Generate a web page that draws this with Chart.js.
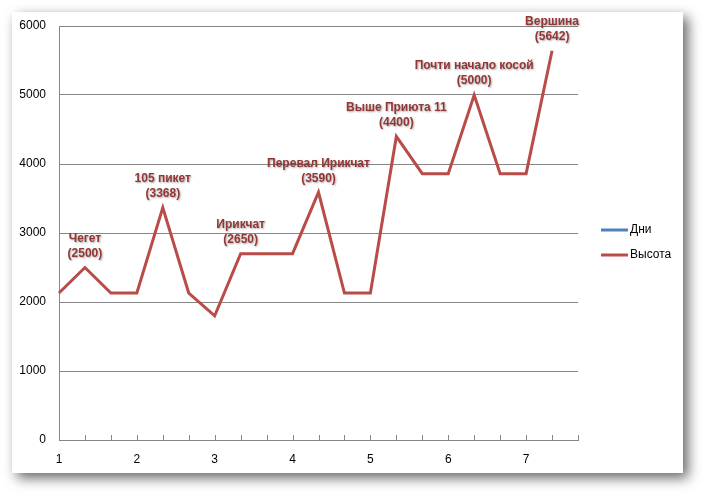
<!DOCTYPE html>
<html><head><meta charset="utf-8">
<script src="https://cdn.jsdelivr.net/npm/chart.js@4/dist/chart.umd.min.js"></script>
<style>html,body{margin:0;padding:0;background:#fff}#wrap{width:703px;height:494px}</style>
</head><body><div id="wrap"><canvas id="c" width="703" height="494"></canvas></div>
<script>
const categories = ["1","","","2","","","3","","","4","","","5","","","6","","","7","",""];
const seriesNames = ["Дни","Высота"];
const daysValues = [];
const heightValues = [2130,2500,2130,2130,3368,2130,1800,2700,2700,2700,3590,2130,2130,4400,3860,3860,5000,3860,3860,5642,null];
const pointLabels = [null,["Чегет","(2500)"],null,null,["105 пикет","(3368)"],null,null,["Ирикчат","(2650)"],null,null,["Перевал Ирикчат","(3590)"],null,null,["Выше Приюта 11","(4400)"],null,null,["Почти начало косой","(5000)"],null,null,["Вершина","(5642)"],null];
const yTicks = [0,1000,2000,3000,4000,5000,6000];

const colors = ["#4f81bd","#b94b49"];
const FONT = "'Liberation Sans', Arial, sans-serif";

const framePlugin = {
  id:'frame',
  beforeDraw(chart){
    const ctx = chart.ctx;
    ctx.save();
    ctx.fillStyle = '#fff';
    ctx.fillRect(0,0,chart.width,chart.height);
    ctx.shadowColor = 'rgba(0,0,0,0.6)';
    ctx.shadowBlur = 12;
    ctx.shadowOffsetX = 5;
    ctx.shadowOffsetY = 5;
    ctx.fillStyle = '#fff';
    ctx.fillRect(12,12,671,461);
    ctx.restore();
  },
  afterDatasetsDraw(chart){
    const ctx = chart.ctx;
    const xs = chart.scales.x, ys = chart.scales.y;
    ctx.save();
    ctx.strokeStyle = '#868686';
    ctx.lineWidth = 1;
    for (let i=0;i<categories.length;i++){
      const x = Math.round(xs.getPixelForValue(i))+0.5;
      ctx.beginPath();
      ctx.moveTo(x, ys.bottom-5);
      ctx.lineTo(x, ys.bottom);
      ctx.stroke();
    }
    ctx.restore();
    ctx.save();
    ctx.font = 'bold 12px ' + FONT;
    ctx.textAlign = 'center';
    ctx.textBaseline = 'middle';
    ctx.shadowColor = 'rgba(0,0,0,0.35)';
    ctx.shadowBlur = 2;
    ctx.shadowOffsetX = 1;
    ctx.shadowOffsetY = 1;
    ctx.fillStyle = '#943634';
    pointLabels.forEach((lab,i)=>{
      if(!lab || heightValues[i]==null) return;
      const x = xs.getPixelForValue(i);
      const y = ys.getPixelForValue(heightValues[i]);
      ctx.fillText(lab[0], x, y-29);
      ctx.fillText(lab[1], x, y-14);
    });
    ctx.restore();
    ctx.save();
    ctx.font = '12px ' + FONT;
    ctx.textBaseline = 'middle';
    ctx.textAlign = 'left';
    const ly = [230,255];
    seriesNames.forEach((n,i)=>{
      ctx.strokeStyle = colors[i];
      ctx.lineWidth = 3;
      ctx.beginPath();
      ctx.moveTo(601, ly[i]);
      ctx.lineTo(628, ly[i]);
      ctx.stroke();
      ctx.fillStyle = '#000';
      ctx.fillText(n, 630, ly[i]);
    });
    ctx.restore();
  }
};

new Chart(document.getElementById('c'), {
  type:'line',
  data:{
    labels: categories,
    datasets:[
      {label:seriesNames[0], data:daysValues, borderColor:colors[0], backgroundColor:colors[0], borderWidth:3, pointRadius:0, tension:0},
      {label:seriesNames[1], data:heightValues, borderColor:colors[1], backgroundColor:colors[1], borderWidth:3, pointRadius:0, tension:0, borderJoinStyle:'miter'}
    ]
  },
  options:{
    responsive:false,
    animation:false,
    devicePixelRatio:1,
    layout:{padding:{left:0,top:26,right:125,bottom:0}},
    plugins:{legend:{display:false},tooltip:{enabled:false}},
    scales:{
      x:{
        type:'category',
        offset:false,
        grid:{display:false,drawTicks:false},
        border:{display:true,color:'#868686',width:1},
        ticks:{autoSkip:false,maxRotation:0,padding:12,color:'#000',font:{family:FONT,size:12}},
        afterFit(s){s.height=54;}
      },
      y:{
        min:0,max:6000,
        afterBuildTicks(s){s.ticks = yTicks.map(v=>({value:v}));},
        grid:{color:'#868686',drawTicks:false},
        border:{display:true,color:'#868686',width:1},
        ticks:{padding:13,color:'#000',font:{family:FONT,size:12},callback:(v)=>String(v)},
        afterFit(s){s.width=59;}
      }
    }
  },
  plugins:[framePlugin]
});
</script>
</body></html>
